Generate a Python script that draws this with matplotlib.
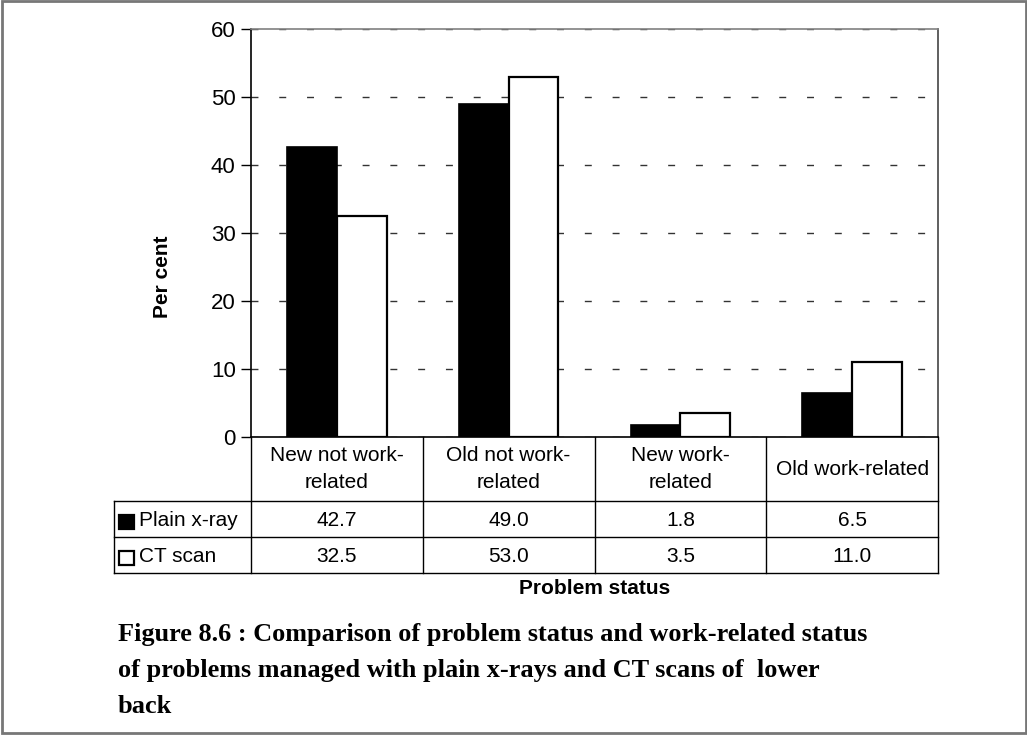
import matplotlib
matplotlib.use("Agg")
import matplotlib.pyplot as plt
from matplotlib.patches import Rectangle

# Data
categories = ["New not work-\nrelated", "Old not work-\nrelated", "New work-\nrelated", "Old work-related"]
series_names = ["Plain x-ray", "CT scan"]
plain_xray = [42.7, 49.0, 1.8, 6.5]
ct_scan = [32.5, 53.0, 3.5, 11.0]
y_ticks = [0, 10, 20, 30, 40, 50, 60]
caption_lines = ["Figure 8.6 : Comparison of problem status and work-related status",
                 "of problems managed with plain x-rays and CT scans of  lower",
                 "back"]

W, H = 1027, 735
fig = plt.figure(figsize=(W / 100, H / 100), dpi=100)
fig.patch.set_facecolor("white")

SANS = ["Liberation Sans", "DejaVu Sans"]
SERIF = ["Liberation Serif", "DejaVu Serif"]

# Plot area geometry in pixels
left, right, top, zero = 251, 938, 29, 437
ax = fig.add_axes([left / W, 1 - zero / H, (right - left) / W, (zero - top) / H])
ax.set_xlim(-0.5, 3.5)
ax.set_ylim(0, 60)

n = len(categories)
xs = list(range(n))
bw = 0.29
ax.bar([x - bw / 2 for x in xs], plain_xray, width=bw, color="black",
       edgecolor="black", linewidth=1.2, zorder=3)
ax.bar([x + bw / 2 for x in xs], ct_scan, width=bw, color="white",
       edgecolor="black", linewidth=1.6, zorder=3)

ax.set_yticks(y_ticks)
ax.set_yticklabels([str(t) for t in y_ticks], fontsize=16, family=SANS)
ax.tick_params(axis="y", direction="out", length=7, width=1, pad=4)
ax.set_xticks([])
ax.yaxis.grid(True, linestyle=(0, (5, 15)), color="#333333", linewidth=1.0, zorder=0)
ax.set_axisbelow(True)
for side, sp in ax.spines.items():
    sp.set_linewidth(1.2)
ax.spines["left"].set_color("black")
ax.spines["bottom"].set_color("black")
ax.spines["top"].set_color("#808080")
ax.spines["right"].set_color("#444444")

# Overlay in pixel coordinates for the data table, labels and caption
ov = fig.add_axes([0, 0, 1, 1])
ov.set_xlim(0, W)
ov.set_ylim(H, 0)
ov.axis("off")
ov.patch.set_alpha(0)

cat_w = (right - left) / n
tab_left = 114
rows = [zero, 501, 537, 573]
lc = "black"
lw = 1.0
for yy in rows[1:]:
    ov.plot([tab_left, right], [yy, yy], color=lc, lw=lw)
ov.plot([tab_left, tab_left], [rows[1], rows[3]], color=lc, lw=lw)
for i in range(n + 1):
    xx = left + i * cat_w
    ov.plot([xx, xx], [zero, rows[3]], color=lc, lw=lw)

for i, cat in enumerate(categories):
    cx = left + (i + 0.5) * cat_w
    ov.text(cx, (rows[0] + rows[1]) / 2, cat, ha="center", va="center",
            fontsize=15, family=SANS, linespacing=1.5)
    ov.text(cx, (rows[1] + rows[2]) / 2 + 1, f"{plain_xray[i]:.1f}", ha="center",
            va="center", fontsize=15, family=SANS)
    ov.text(cx, (rows[2] + rows[3]) / 2 + 1, f"{ct_scan[i]:.1f}", ha="center",
            va="center", fontsize=15, family=SANS)

# Legend keys in the table row headers
for r, (name, fc) in enumerate(zip(series_names, ["black", "white"])):
    cy = (rows[r + 1] + rows[r + 2]) / 2 + 3
    ov.add_patch(Rectangle((119, cy - 7), 15, 14, facecolor=fc, edgecolor="black",
                           lw=1.6))
    ov.text(139, cy - 2, name, ha="left", va="center", fontsize=15, family=SANS)

# Axis titles
ov.text(162, 277, "Per cent", rotation=90, ha="center", va="center",
        fontsize=15, fontweight="bold", family=SANS)
ov.text((left + right) / 2, 588, "Problem status", ha="center", va="center",
        fontsize=15, fontweight="bold", family=SANS)

# Caption, one line per baseline
for k, line in enumerate(caption_lines):
    ov.text(118, 641 + 36 * k, line, ha="left", va="baseline", fontsize=18.9,
            fontweight="bold", family=SERIF)

# Outer frame
ov.add_patch(Rectangle((2, 0.5), 1024, 732.5, facecolor="none",
                       edgecolor="#777777", lw=2))

fig.savefig("out.png", dpi=100)
